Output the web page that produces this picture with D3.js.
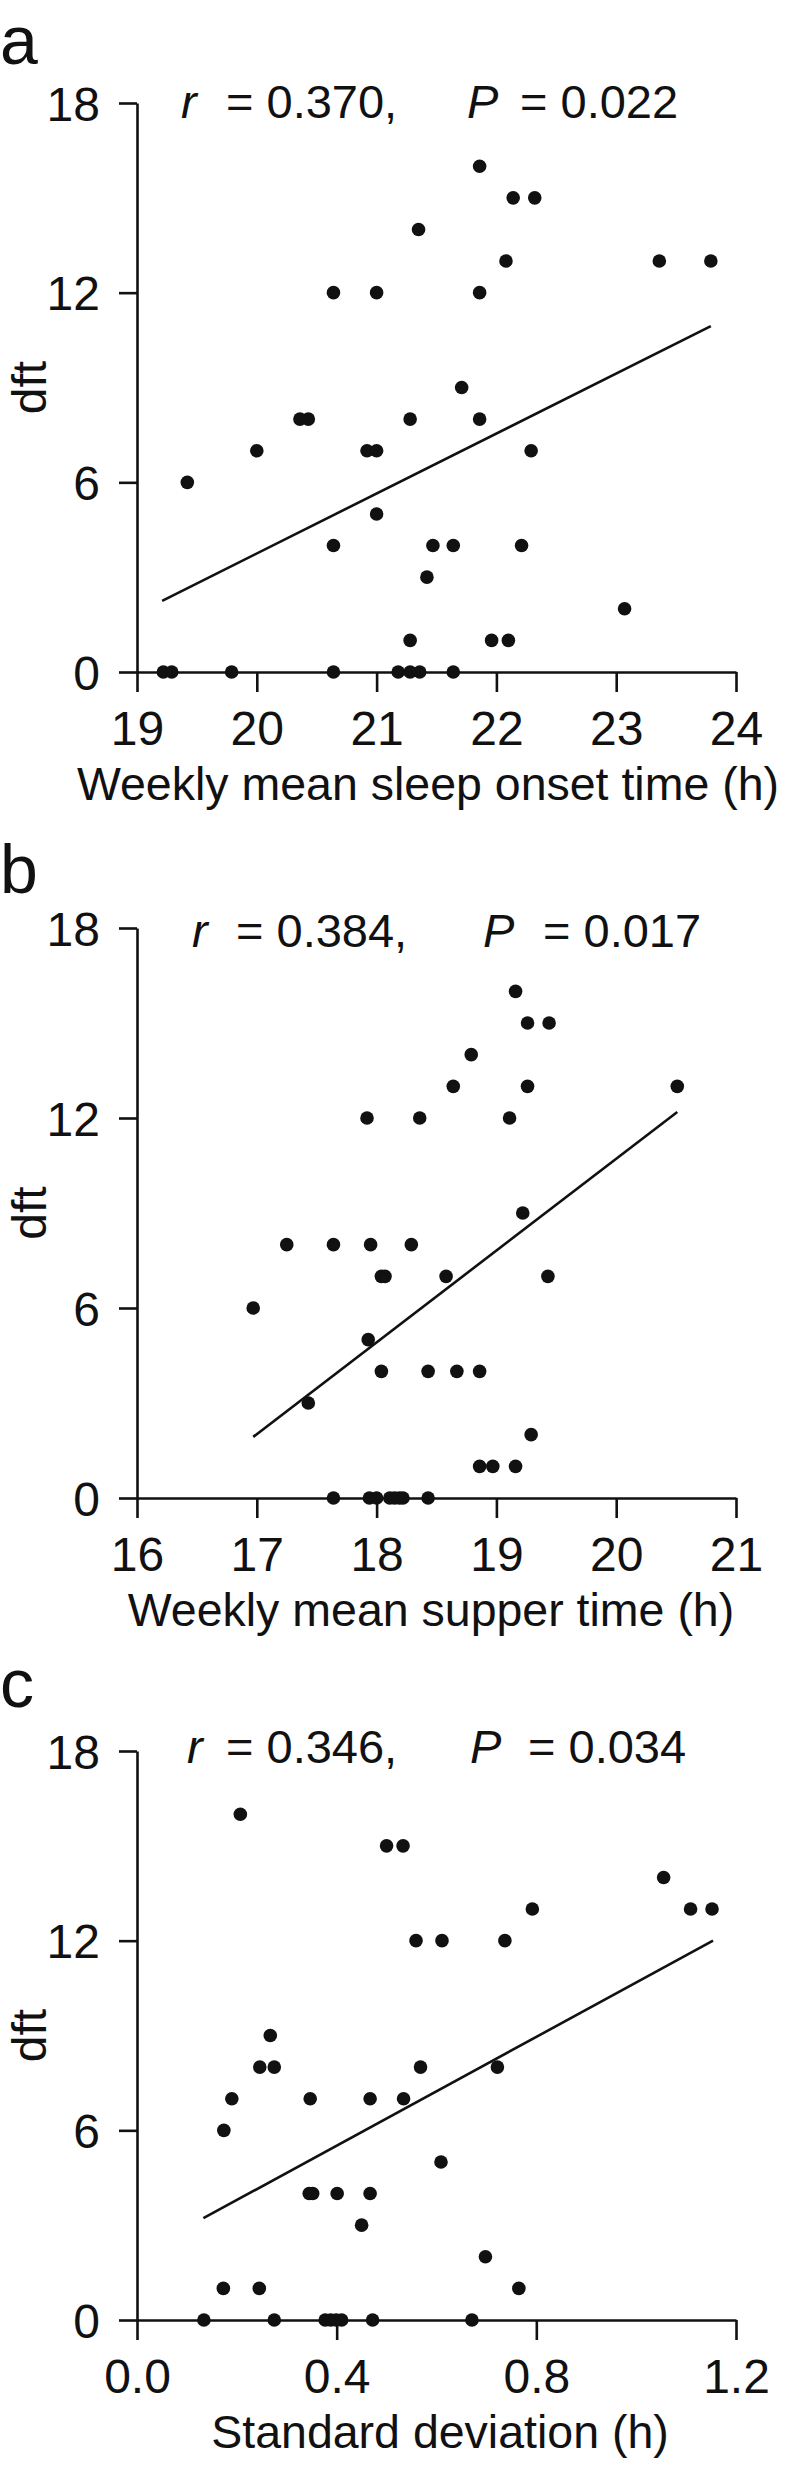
<!DOCTYPE html>
<html>
<head>
<meta charset="utf-8">
<script src="https://cdn.jsdelivr.net/npm/d3@7"></script>
<style>
  body { margin: 0; background: #fff; }
  svg text { font-family: "Liberation Sans", Arial, sans-serif; fill: #111; }
  .axis path, .axis line { stroke: #111; stroke-width: 2.6; }
</style>
</head>
<body>
<div id="chart"></div>
<script>
// dft per subject, same ordering in every panel
const dft = [16, 15, 15, 14, 13, 13, 13, 12, 12, 12, 9, 8, 8, 8, 8, 7, 7, 7, 7, 6, 5,
  4, 4, 4, 4, 3, 2, 1, 1, 1, 0, 0, 0, 0, 0, 0, 0, 0];

// panel a: weekly mean sleep onset time (h)
const sleepOnset = [21.86, 22.14, 22.32, 21.35, 22.08, 23.36, 23.79, 20.64, 21.0, 21.86,
  21.71, 20.36, 20.43, 21.28, 21.86, 20.0, 20.92, 21.0, 22.29, 19.42, 21.0,
  20.64, 21.47, 21.64, 22.21, 21.42, 23.07, 21.28, 21.96, 22.10,
  19.22, 19.29, 19.79, 20.64, 21.18, 21.28, 21.36, 21.64];

// panel b: weekly mean supper time (h)
const supper = [19.16, 19.26, 19.44, 18.79, 18.64, 19.26, 20.51, 17.92, 18.36, 19.11,
  19.22, 17.25, 17.64, 17.95, 18.29, 18.04, 18.07, 18.58, 19.43, 16.97, 17.93,
  18.04, 18.43, 18.67, 18.86, 17.43, 19.29, 18.86, 18.97, 19.16,
  17.64, 17.94, 18.0, 18.11, 18.15, 18.19, 18.22, 18.43];

// panel c: standard deviation (h)
const sdev = [0.207, 0.50, 0.533, 1.055, 0.792, 1.109, 1.152, 0.559, 0.611, 0.737,
  0.267, 0.246, 0.275, 0.568, 0.722, 0.19, 0.347, 0.467, 0.534, 0.174, 0.609,
  0.345, 0.352, 0.401, 0.467, 0.45, 0.698, 0.173, 0.245, 0.765,
  0.134, 0.275, 0.377, 0.388, 0.399, 0.41, 0.472, 0.671];

// regression line end points [x, y]
const fitA = [[19.21, 2.25], [23.79, 10.94]];
const fitB = [[16.97, 1.93], [20.51, 12.19]];
const fitC = [[0.133, 3.22], [1.154, 12.0]];

const xTicksA = [19, 20, 21, 22, 23, 24];
const xTicksB = [16, 17, 18, 19, 20, 21];
const xTicksC = [0, 0.4, 0.8, 1.2];
const yTicks = [0, 6, 12, 18];

const stats = [["0.370", "0.022"], ["0.384", "0.017"], ["0.346", "0.034"]];
const letters = ["a", "b", "c"];
const xTitles = ["Weekly mean sleep onset time (h)", "Weekly mean supper time (h)", "Standard deviation (h)"];

const W = 787, H = 2466;
const left = 137, right = 736;

const panels = [
  { x: sleepOnset, fit: fitA, ticks: xTicksA, domain: [19, 24], fmt: d3.format("d"),
    top: 103, bottom: 672, letterY: 64, statY: 118, pos: [181, 226, 467, 520], titleX: 428 },
  { x: supper, fit: fitB, ticks: xTicksB, domain: [16, 21], fmt: d3.format("d"),
    top: 928, bottom: 1498, letterY: 893, statY: 947, pos: [192, 236, 483, 543], titleX: 431 },
  { x: sdev, fit: fitC, ticks: xTicksC, domain: [0, 1.2], fmt: d3.format(".1f"),
    top: 1751, bottom: 2320, letterY: 1707, statY: 1763, pos: [187, 226, 470, 528], titleX: 440 }
];

const svg = d3.select("#chart").append("svg")
  .attr("width", W)
  .attr("height", H);

panels.forEach((p, i) => {
  const g = svg.append("g");

  const x = d3.scaleLinear().domain(p.domain).range([left, right]);
  const y = d3.scaleLinear().domain([0, 18]).range([p.bottom, p.top]);

  // axes
  const xAxis = g.append("g")
    .attr("class", "axis")
    .attr("transform", `translate(0,${p.bottom})`)
    .call(d3.axisBottom(x).tickValues(p.ticks).tickSize(20).tickSizeOuter(0).tickFormat(p.fmt));
  xAxis.selectAll("text")
    .attr("y", 73).attr("dy", null)
    .style("font-size", "48px");

  const yAxis = g.append("g")
    .attr("class", "axis")
    .attr("transform", `translate(${left},0)`)
    .call(d3.axisLeft(y).tickValues(yTicks).tickSize(18).tickSizeOuter(0));
  yAxis.selectAll("text")
    .attr("x", -37).attr("dy", "0.36em")
    .style("font-size", "48px");
  g.selectAll(".axis .domain").attr("fill", "none");

  // panel letter
  g.append("text")
    .attr("x", 0).attr("y", p.letterY)
    .style("font-size", "68px")
    .text(letters[i]);

  // r and P
  const st = g.append("g").style("font-size", "47px");
  st.append("text").attr("x", p.pos[0]).attr("y", p.statY)
    .style("font-style", "italic").text("r");
  st.append("text").attr("x", p.pos[1]).attr("y", p.statY)
    .text(`= ${stats[i][0]},`);
  st.append("text").attr("x", p.pos[2]).attr("y", p.statY)
    .style("font-style", "italic").text("P");
  st.append("text").attr("x", p.pos[3]).attr("y", p.statY)
    .text(`= ${stats[i][1]}`);

  // axis titles
  g.append("text")
    .attr("x", p.titleX)
    .attr("y", p.bottom + 128)
    .attr("text-anchor", "middle")
    .style("font-size", "46.5px")
    .text(xTitles[i]);

  g.append("text")
    .attr("transform", `translate(46,${(p.top + p.bottom) / 2}) rotate(-90)`)
    .attr("text-anchor", "middle")
    .style("font-size", "48px")
    .text("dft");

  // regression line
  g.append("path")
    .datum(p.fit)
    .attr("fill", "none")
    .attr("stroke", "#111")
    .attr("stroke-width", 2.6)
    .attr("d", d3.line().x(d => x(d[0])).y(d => y(d[1])));

  // dots
  g.selectAll(".dot")
    .data(p.x.map((v, j) => [v, dft[j]]))
    .enter().append("circle")
    .attr("class", "dot")
    .attr("cx", d => x(d[0]))
    .attr("cy", d => y(d[1]))
    .attr("r", 6.8)
    .attr("fill", "#111");
});
</script>
</body>
</html>
